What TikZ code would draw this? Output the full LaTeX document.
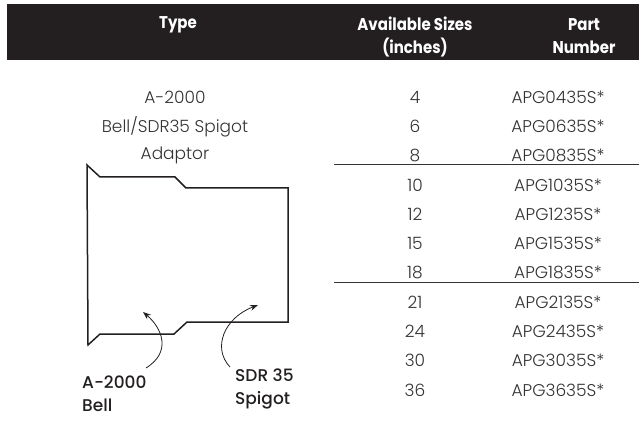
\documentclass[tikz,border=0pt]{standalone}
\usepackage{fontspec}
\setmainfont{Poppins}
\newfontfamily\plight{Poppins Light}
\newfontfamily\pmed{Poppins Medium}
\newfontfamily\phead{Poppins}[FakeStretch=0.88]
\usetikzlibrary{arrows.meta}
\definecolor{hdr}{HTML}{231F20}
\definecolor{txt}{HTML}{333333}
\begin{document}
\begin{tikzpicture}[x=1pt,y=-1pt,
  head/.style={text=white,font=\phead\bfseries\fontsize{17}{23}\selectfont,inner sep=0pt,align=center},
  cell/.style={text=txt,font=\plight\fontsize{17}{20}\selectfont,inner sep=0pt},
  lbl/.style={text=hdr,font=\pmed\fontsize{17}{23}\selectfont,inner sep=0pt,align=left,anchor=west},
  rule/.style={draw=txt,line width=1pt},
  outline/.style={draw=hdr,line width=1.5pt,line join=miter},
  pointer/.style={draw=hdr,line width=0.8pt,-{Stealth[length=8pt,width=6pt]}}]
\useasboundingbox (0,0) rectangle (639,427);
\fill[hdr] (7,4) rectangle (639,60);
\node[head] (hType) at (178,25) {Type};
\node[head] (hSize) at (415,36.5) {Available Sizes\\(inches)};
\node[head] (hPart) at (584,36.5) {Part\\Number};
% left column
\node[cell] (t1) at (175,97) {A-2000};
\node[cell] (t2) at (175,126.3) {Bell/SDR35 Spigot};
\node[cell] (t3) at (175,155.6) {Adaptor};
% sizes and parts
\foreach \s/\p [count=\i from 0] in {4/APG0435S*,6/APG0635S*,8/APG0835S*,10/APG1035S*,12/APG1235S*,15/APG1535S*,18/APG1835S*,21/APG2135S*,24/APG2435S*,30/APG3035S*,36/APG3635S*}{
  \node[cell] (s\i) at (415,97+29.3*\i) {\s};
  \node[cell] (p\i) at (558,97+29.3*\i) {\p};
}
\draw[rule] (334,165) -- (639,165);
\draw[rule] (334,283) -- (639,283);
% adaptor outline
\draw[outline] (87,165) -- (100,177) -- (175,177) -- (186,188) -- (288,188) -- (288,322)
  -- (187,322) -- (174,334) -- (100,334) -- (88,345) -- cycle;
% labels
\node[lbl] (lBell) at (82,394) {A-2000\\Bell};
\node[lbl] (lSpig) at (235,389) {SDR 35\\Spigot};
\coordinate (aBellS) at (146,368);
\coordinate (aBellE) at (143,312);
\coordinate (aSpigS) at (230,367);
\coordinate (aSpigE) at (258,305);
\draw[pointer] (aBellS) .. controls (172,352) and (162,328) .. (aBellE);
\draw[pointer] (aSpigS) .. controls (212,348) and (224,318) .. (aSpigE);
\end{tikzpicture}
\end{document}
